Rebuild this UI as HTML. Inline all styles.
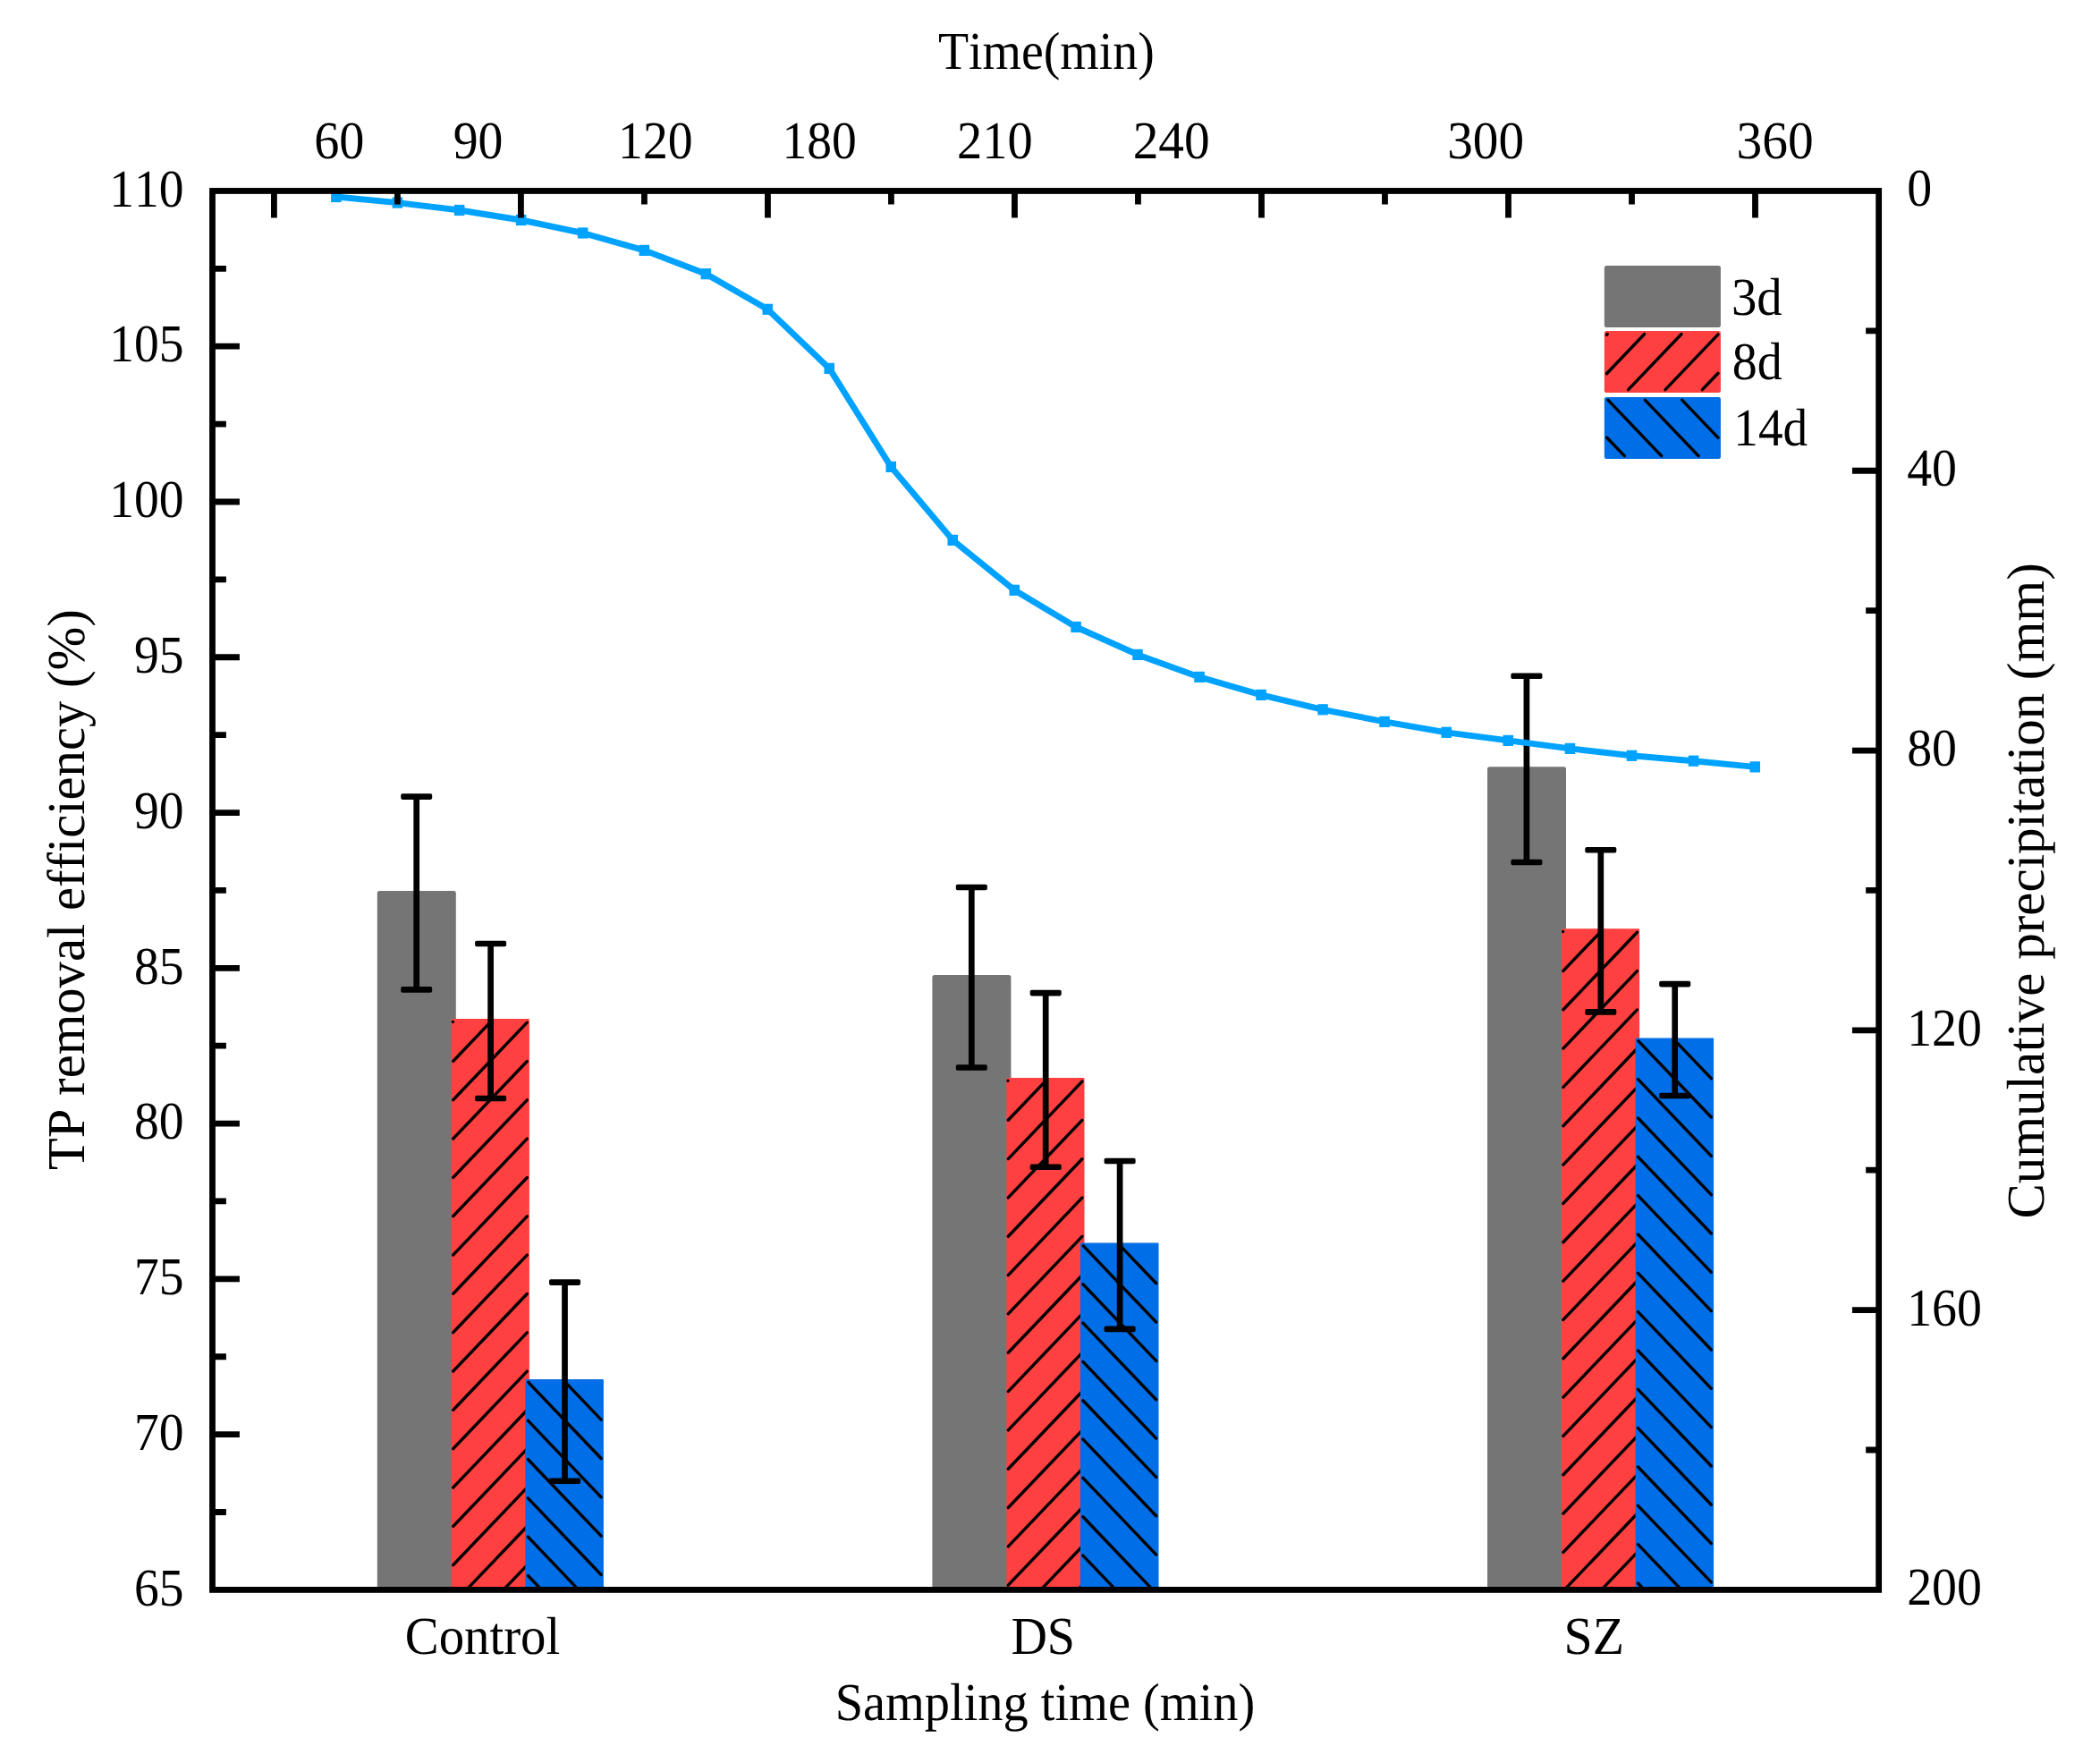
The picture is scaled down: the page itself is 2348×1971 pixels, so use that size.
<!DOCTYPE html>
<html lang="en"><head><meta charset="utf-8"><title>TP removal efficiency</title>
<style>html,body{margin:0;padding:0;background:#fff}body{width:2348px;height:1971px;overflow:hidden}svg{display:block}</style>
</head><body>
<svg width="2348" height="1971" viewBox="0 0 2348 1971" font-family="'Liberation Serif', 'Times New Roman', serif" font-size="59.5" style="font-variant-ligatures:none;font-kerning:none" text-rendering="geometricPrecision">
<rect width="2348" height="1971" fill="#fff"/>
<g id="bars">
<path d="M421.80 1777.40L421.80 998.50Q421.80 996.00 424.30 996.00L507.30 996.00Q509.80 996.00 509.80 998.50L509.80 1777.40Z" fill="#757575"/>
<path d="M504.70 1777.40L504.70 1140.10Q504.70 1139.10 505.70 1139.10L590.90 1139.10Q591.90 1139.10 591.90 1140.10L591.90 1777.40Z" fill="#FF4040"/>
<path d="M506.40 1142.40l0.01 0M506.70 1186.34L548.38 1142.70M506.70 1229.67L589.30 1143.18M506.70 1273.00L589.30 1186.51M506.70 1316.33L589.30 1229.84M506.70 1359.66L589.30 1273.17M506.70 1402.99L589.30 1316.50M506.70 1446.32L589.30 1359.83M506.70 1489.65L589.30 1403.16M506.70 1532.98L589.30 1446.49M506.70 1576.31L589.30 1489.82M506.70 1619.64L589.30 1533.15M506.70 1662.97L589.30 1576.48M506.70 1706.30L589.30 1619.81M506.70 1749.63L589.30 1663.14M521.56 1777.40L589.30 1706.47M562.94 1777.40L589.30 1749.80" stroke="#000" stroke-width="3.4" stroke-linecap="round" fill="none"/>
<path d="M587.30 1777.40L587.30 1542.90Q587.30 1541.90 588.30 1541.90L673.90 1541.90Q674.90 1541.90 674.90 1542.90L674.90 1777.40Z" fill="#006EE6"/>
<path d="M632.12 1545.30L672.10 1587.16M590.74 1545.30L672.10 1630.49M590.30 1588.17L672.10 1673.82M590.30 1631.50L672.10 1717.15M590.30 1674.83L672.10 1760.48M590.30 1718.16L646.88 1777.40M590.30 1761.49L605.49 1777.40" stroke="#000" stroke-width="3.4" stroke-linecap="round" fill="none"/>
<path d="M1042.40 1777.40L1042.40 1092.50Q1042.40 1090.00 1044.90 1090.00L1127.90 1090.00Q1130.40 1090.00 1130.40 1092.50L1130.40 1777.40Z" fill="#757575"/>
<path d="M1125.30 1777.40L1125.30 1206.00Q1125.30 1205.00 1126.30 1205.00L1211.50 1205.00Q1212.50 1205.00 1212.50 1206.00L1212.50 1777.40Z" fill="#FF4040"/>
<path d="M1127.00 1208.30l0.01 0M1127.30 1252.24L1168.98 1208.60M1127.30 1295.57L1209.90 1209.08M1127.30 1338.90L1209.90 1252.41M1127.30 1382.23L1209.90 1295.74M1127.30 1425.56L1209.90 1339.07M1127.30 1468.89L1209.90 1382.40M1127.30 1512.22L1209.90 1425.73M1127.30 1555.55L1209.90 1469.06M1127.30 1598.88L1209.90 1512.39M1127.30 1642.21L1209.90 1555.72M1127.30 1685.54L1209.90 1599.05M1127.30 1728.87L1209.90 1642.38M1127.30 1772.20L1209.90 1685.71M1163.71 1777.40L1209.90 1729.04M1205.10 1777.40L1209.90 1772.37" stroke="#000" stroke-width="3.4" stroke-linecap="round" fill="none"/>
<path d="M1207.90 1777.40L1207.90 1390.50Q1207.90 1389.50 1208.90 1389.50L1294.50 1389.50Q1295.50 1389.50 1295.50 1390.50L1295.50 1777.40Z" fill="#006EE6"/>
<path d="M1252.72 1392.90L1292.70 1434.76M1211.34 1392.90L1292.70 1478.09M1210.90 1435.77L1292.70 1521.42M1210.90 1479.10L1292.70 1564.75M1210.90 1522.43L1292.70 1608.08M1210.90 1565.76L1292.70 1651.41M1210.90 1609.09L1292.70 1694.74M1210.90 1652.42L1292.70 1738.07M1210.90 1695.75L1288.88 1777.40M1210.90 1739.08L1247.50 1777.40" stroke="#000" stroke-width="3.4" stroke-linecap="round" fill="none"/>
<path d="M1663.00 1777.40L1663.00 859.70Q1663.00 857.20 1665.50 857.20L1748.50 857.20Q1751.00 857.20 1751.00 859.70L1751.00 1777.40Z" fill="#757575"/>
<path d="M1745.90 1777.40L1745.90 1039.20Q1745.90 1038.20 1746.90 1038.20L1832.10 1038.20Q1833.10 1038.20 1833.10 1039.20L1833.10 1777.40Z" fill="#FF4040"/>
<path d="M1747.60 1041.50l0.01 0M1747.90 1085.44L1789.58 1041.80M1747.90 1128.77L1830.50 1042.28M1747.90 1172.10L1830.50 1085.61M1747.90 1215.43L1830.50 1128.94M1747.90 1258.76L1830.50 1172.27M1747.90 1302.09L1830.50 1215.60M1747.90 1345.42L1830.50 1258.93M1747.90 1388.75L1830.50 1302.26M1747.90 1432.08L1830.50 1345.59M1747.90 1475.41L1830.50 1388.92M1747.90 1518.74L1830.50 1432.25M1747.90 1562.07L1830.50 1475.58M1747.90 1605.40L1830.50 1518.91M1747.90 1648.73L1830.50 1562.24M1747.90 1692.06L1830.50 1605.57M1747.90 1735.39L1830.50 1648.90M1749.16 1777.40L1830.50 1692.23M1790.54 1777.40L1830.50 1735.56" stroke="#000" stroke-width="3.4" stroke-linecap="round" fill="none"/>
<path d="M1828.50 1777.40L1828.50 1161.40Q1828.50 1160.40 1829.50 1160.40L1915.10 1160.40Q1916.10 1160.40 1916.10 1161.40L1916.10 1777.40Z" fill="#006EE6"/>
<path d="M1873.32 1163.80L1913.30 1205.66M1831.94 1163.80L1913.30 1248.99M1831.50 1206.67L1913.30 1292.32M1831.50 1250.00L1913.30 1335.65M1831.50 1293.33L1913.30 1378.98M1831.50 1336.66L1913.30 1422.31M1831.50 1379.99L1913.30 1465.64M1831.50 1423.32L1913.30 1508.97M1831.50 1466.65L1913.30 1552.30M1831.50 1509.98L1913.30 1595.63M1831.50 1553.31L1913.30 1638.96M1831.50 1596.64L1913.30 1682.29M1831.50 1639.97L1913.30 1725.62M1831.50 1683.30L1913.30 1768.95M1831.50 1726.63L1879.99 1777.40M1831.50 1769.96L1838.61 1777.40" stroke="#000" stroke-width="3.4" stroke-linecap="round" fill="none"/>
</g>
<g id="errs">
<path d="M465.70 890.60L465.70 1106.40" stroke="#000" stroke-width="6.7" fill="none"/>
<rect x="448.20" y="887.30" width="35" height="6.6" rx="1.8" ry="1.8" fill="#000"/>
<rect x="448.20" y="1103.10" width="35" height="6.6" rx="1.8" ry="1.8" fill="#000"/>
<path d="M548.60 1055.00L548.60 1228.00" stroke="#000" stroke-width="6.7" fill="none"/>
<rect x="531.10" y="1051.70" width="35" height="6.6" rx="1.8" ry="1.8" fill="#000"/>
<rect x="531.10" y="1224.70" width="35" height="6.6" rx="1.8" ry="1.8" fill="#000"/>
<path d="M631.50 1433.60L631.50 1655.80" stroke="#000" stroke-width="6.7" fill="none"/>
<rect x="614.00" y="1430.30" width="35" height="6.6" rx="1.8" ry="1.8" fill="#000"/>
<rect x="614.00" y="1652.50" width="35" height="6.6" rx="1.8" ry="1.8" fill="#000"/>
<path d="M1086.30 992.00L1086.30 1193.50" stroke="#000" stroke-width="6.7" fill="none"/>
<rect x="1068.80" y="988.70" width="35" height="6.6" rx="1.8" ry="1.8" fill="#000"/>
<rect x="1068.80" y="1190.20" width="35" height="6.6" rx="1.8" ry="1.8" fill="#000"/>
<path d="M1169.20 1110.10L1169.20 1304.80" stroke="#000" stroke-width="6.7" fill="none"/>
<rect x="1151.70" y="1106.80" width="35" height="6.6" rx="1.8" ry="1.8" fill="#000"/>
<rect x="1151.70" y="1301.50" width="35" height="6.6" rx="1.8" ry="1.8" fill="#000"/>
<path d="M1252.10 1298.00L1252.10 1485.90" stroke="#000" stroke-width="6.7" fill="none"/>
<rect x="1234.60" y="1294.70" width="35" height="6.6" rx="1.8" ry="1.8" fill="#000"/>
<rect x="1234.60" y="1482.60" width="35" height="6.6" rx="1.8" ry="1.8" fill="#000"/>
<path d="M1706.90 755.70L1706.90 964.00" stroke="#000" stroke-width="6.7" fill="none"/>
<rect x="1689.40" y="752.40" width="35" height="6.6" rx="1.8" ry="1.8" fill="#000"/>
<rect x="1689.40" y="960.70" width="35" height="6.6" rx="1.8" ry="1.8" fill="#000"/>
<path d="M1789.80 950.30L1789.80 1131.40" stroke="#000" stroke-width="6.7" fill="none"/>
<rect x="1772.30" y="947.00" width="35" height="6.6" rx="1.8" ry="1.8" fill="#000"/>
<rect x="1772.30" y="1128.10" width="35" height="6.6" rx="1.8" ry="1.8" fill="#000"/>
<path d="M1872.70 1100.10L1872.70 1225.00" stroke="#000" stroke-width="6.7" fill="none"/>
<rect x="1855.20" y="1096.80" width="35" height="6.6" rx="1.8" ry="1.8" fill="#000"/>
<rect x="1855.20" y="1221.70" width="35" height="6.6" rx="1.8" ry="1.8" fill="#000"/>
</g>
<path d="M375.9 220.0L444.4 226.6L513.6 235.0L582.6 246.0L651.6 260.5L720.4 279.9L789.4 306.2L858.2 345.8L927.3 411.9L996.2 521.9L1065.3 603.9L1134.2 659.8L1203.1 701.0L1272.0 731.9L1341.1 756.9L1410.1 776.9L1479.1 793.3L1548.1 806.9L1617.2 818.8L1686.3 827.9L1755.4 836.9L1824.4 844.8L1893.5 850.7L1962.3 857.4" stroke="#00A2FF" stroke-width="6.9" fill="none" stroke-linejoin="round"/>
<g fill="#00A2FF"><rect x="370.1" y="213.9" width="11.5" height="12.2"/><rect x="438.6" y="220.5" width="11.5" height="12.2"/><rect x="507.9" y="228.9" width="11.5" height="12.2"/><rect x="576.9" y="239.9" width="11.5" height="12.2"/><rect x="645.9" y="254.4" width="11.5" height="12.2"/><rect x="714.6" y="273.8" width="11.5" height="12.2"/><rect x="783.6" y="300.1" width="11.5" height="12.2"/><rect x="852.5" y="339.7" width="11.5" height="12.2"/><rect x="921.5" y="405.8" width="11.5" height="12.2"/><rect x="990.5" y="515.8" width="11.5" height="12.2"/><rect x="1059.5" y="597.8" width="11.5" height="12.2"/><rect x="1128.5" y="653.7" width="11.5" height="12.2"/><rect x="1197.3" y="694.9" width="11.5" height="12.2"/><rect x="1266.2" y="725.8" width="11.5" height="12.2"/><rect x="1335.3" y="750.8" width="11.5" height="12.2"/><rect x="1404.3" y="770.8" width="11.5" height="12.2"/><rect x="1473.3" y="787.2" width="11.5" height="12.2"/><rect x="1542.3" y="800.8" width="11.5" height="12.2"/><rect x="1611.5" y="812.7" width="11.5" height="12.2"/><rect x="1680.5" y="821.8" width="11.5" height="12.2"/><rect x="1749.7" y="830.8" width="11.5" height="12.2"/><rect x="1818.7" y="838.7" width="11.5" height="12.2"/><rect x="1887.8" y="844.6" width="11.5" height="12.2"/><rect x="1956.5" y="851.3" width="11.5" height="12.2"/></g>
<rect x="1793.80" y="296.90" width="130.10" height="69.00" rx="2.5" ry="2.5" fill="#757575"/>
<rect x="1793.80" y="369.90" width="130.10" height="69.00" rx="2.5" ry="2.5" fill="#FF4040"/>
<path d="M1796.40 374.38L1797.24 373.50M1796.40 417.71L1838.62 373.50M1820.60 435.70L1880.01 373.50M1861.99 435.70L1921.00 373.91M1903.37 435.70L1921.00 417.24" stroke="#000" stroke-width="3.4" stroke-linecap="round" fill="none"/>
<rect x="1793.80" y="443.90" width="130.10" height="69.00" rx="2.5" ry="2.5" fill="#006EE6"/>
<path d="M1880.82 447.30L1921.00 489.37M1839.44 447.30L1899.03 509.70M1798.05 447.30L1857.65 509.70M1796.70 489.22L1816.26 509.70" stroke="#000" stroke-width="3.4" stroke-linecap="round" fill="none"/>
<g stroke="#000" fill="none" stroke-width="6.8">
<rect x="237.5" y="213.45" width="1863.15" height="1563.95"/>
<path d="M306.40 213.45L306.40 243.45M444.41 213.45L444.41 228.45M582.42 213.45L582.42 243.45M720.42 213.45L720.42 228.45M858.43 213.45L858.43 243.45M996.44 213.45L996.44 228.45M1134.45 213.45L1134.45 243.45M1272.46 213.45L1272.46 228.45M1410.47 213.45L1410.47 243.45M1548.47 213.45L1548.47 228.45M1686.48 213.45L1686.48 243.45M1824.49 213.45L1824.49 228.45M1962.50 213.45L1962.50 243.45M237.5 300.34L252.90 300.34M237.5 387.22L267.90 387.22M237.5 474.11L252.90 474.11M237.5 560.99L267.90 560.99M237.5 647.88L252.90 647.88M237.5 734.77L267.90 734.77M237.5 821.65L252.90 821.65M237.5 908.54L267.90 908.54M237.5 995.42L252.90 995.42M237.5 1082.31L267.90 1082.31M237.5 1169.20L252.90 1169.20M237.5 1256.08L267.90 1256.08M237.5 1342.97L252.90 1342.97M237.5 1429.86L267.90 1429.86M237.5 1516.74L252.90 1516.74M237.5 1603.63L267.90 1603.63M237.5 1690.51L252.90 1690.51M2100.65 369.85L2086.15 369.85M2100.65 526.24L2070.95 526.24M2100.65 682.63L2086.15 682.63M2100.65 839.03L2070.95 839.03M2100.65 995.42L2086.15 995.42M2100.65 1151.82L2070.95 1151.82M2100.65 1308.22L2086.15 1308.22M2100.65 1464.61L2070.95 1464.61M2100.65 1621.01L2086.15 1621.01"/>
</g>
<text transform="translate(1048.95 76.80) scale(0.9381 1.0000)">Time(min)</text>
<text transform="translate(351.20 176.80) scale(0.9439 1.0000)">60</text>
<text transform="translate(506.70 176.80) scale(0.9352 1.0000)">90</text>
<text transform="translate(691.10 176.80) scale(0.9360 1.0000)">120</text>
<text transform="translate(874.51 176.80) scale(0.9336 1.0000)">180</text>
<text transform="translate(1069.99 176.80) scale(0.9477 1.0000)">210</text>
<text transform="translate(1266.65 176.80) scale(0.9642 1.0000)">240</text>
<text transform="translate(1618.21 176.80) scale(0.9612 1.0000)">300</text>
<text transform="translate(1941.50 176.80) scale(0.9648 1.0000)">360</text>
<text transform="translate(122.21 230.70) scale(0.9336 1)">110</text>
<text transform="translate(122.21 404.47) scale(0.9336 1)">105</text>
<text transform="translate(122.21 578.24) scale(0.9336 1)">100</text>
<text transform="translate(149.99 752.02) scale(0.9336 1)">95</text>
<text transform="translate(149.99 925.79) scale(0.9336 1)">90</text>
<text transform="translate(149.99 1099.56) scale(0.9336 1)">85</text>
<text transform="translate(149.99 1273.33) scale(0.9336 1)">80</text>
<text transform="translate(149.99 1447.11) scale(0.9336 1)">75</text>
<text transform="translate(149.99 1620.88) scale(0.9336 1)">70</text>
<text transform="translate(149.99 1794.65) scale(0.9336 1)">65</text>
<text transform="translate(2132.20 230.45) scale(0.9382 1)">0</text>
<text transform="translate(2132.20 543.24) scale(0.9382 1)">40</text>
<text transform="translate(2132.20 856.03) scale(0.9382 1)">80</text>
<text transform="translate(2132.20 1168.82) scale(0.9382 1)">120</text>
<text transform="translate(2132.20 1481.61) scale(0.9382 1)">160</text>
<text transform="translate(2132.20 1794.40) scale(0.9382 1)">200</text>
<text transform="translate(452.77 1848.80) scale(0.9540 1.0000)">Control</text>
<text transform="translate(1130.43 1849.00) scale(0.9408 1.0000)">DS</text>
<text transform="translate(1748.55 1849.00) scale(0.9703 1.0000)">SZ</text>
<text transform="translate(933.65 1922.90) scale(0.9470 1.0000)">Sampling time (min)</text>
<text transform="translate(1935.93 351.50) scale(0.9528 1.0000)">3d</text>
<text transform="translate(1936.65 424.30) scale(0.9407 1.0000)">8d</text>
<text transform="translate(1938.34 498.00) scale(0.9285 1.0000)">14d</text>
<text transform="translate(94.10 1308.00) rotate(-90) scale(0.9856 1.0000)">TP removal efficiency (%)</text>
<text transform="translate(2284.70 1362.52) rotate(-90) scale(0.9906 1.0000)">Cumulative precipitation (mm)</text>
</svg>
</body></html>
